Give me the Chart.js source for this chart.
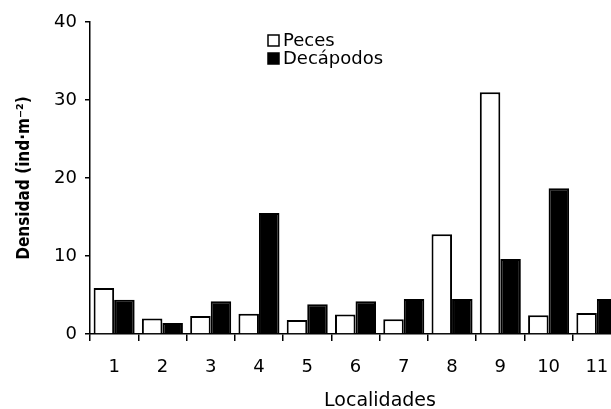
<!DOCTYPE html>
<html>
<head>
<meta charset="utf-8">
<script src="https://cdn.jsdelivr.net/npm/chart.js@4.4.1/dist/chart.umd.min.js"></script>
<style>
  body { margin: 0; overflow: hidden; background: #fff; }
  #wrap { width: 640px; height: 409px; }
</style>
</head>
<body>
<div id="wrap"><canvas id="densidad"></canvas></div>
<script>
var localidades = ["1", "2", "3", "4", "5", "6", "7", "8", "9", "10", "11"];
var peces = [5.9, 2.0, 2.3, 2.6, 1.8, 2.5, 1.9, 12.8, 31.0, 2.4, 2.7];
var decapodos = [4.4, 1.4, 4.2, 15.5, 3.8, 4.2, 4.5, 4.5, 9.6, 18.7, 4.5];
var yTicks = [0, 10, 20, 30, 40];
var tituloX = "Localidades";

var fuente = "'DejaVu Sans', 'Liberation Sans', Arial, sans-serif";

// legend drawn inside the plot, stacked like the original
var leyenda = {
    id: 'leyenda',
    afterDraw: function (chart) {
        var ctx = chart.ctx;
        var x = 268, y = 35;
        ctx.save();
        ctx.font = "18px " + fuente;
        ctx.textBaseline = 'alphabetic';
        chart.data.datasets.forEach(function (ds, i) {
            var top = y + i * 18;
            ctx.fillStyle = ds.backgroundColor;
            ctx.fillRect(x, top, 11, 11);
            ctx.lineWidth = 1.5;
            ctx.strokeStyle = '#000';
            ctx.strokeRect(x, top, 11, 11);
            ctx.fillStyle = '#000';
            ctx.fillText(ds.label, x + 15, top + 11);
        });
        // x axis title, the original sits right of the visible axis centre
        ctx.font = "19px " + fuente;
        ctx.textAlign = 'center';
        ctx.fillText(tituloX, 380, 406);
        ctx.restore();
    }
};

var ctx = document.getElementById("densidad");

var data = {
    labels: localidades,
    datasets: [
        {
            label: "Peces",
            data: peces,
            backgroundColor: "#ffffff",
            borderColor: "#000000",
            borderWidth: 2,
            categoryPercentage: 0.85,
            barPercentage: 1.0
        },
        {
            label: "Decápodos",
            data: decapodos,
            backgroundColor: "#000000",
            borderColor: "#000000",
            borderWidth: 2,
            categoryPercentage: 0.85,
            barPercentage: 1.0
        }
    ]
};

var grafico = new Chart(ctx, {
    type: 'bar',
    data: data,
    plugins: [leyenda],
    options: {
        responsive: true,
        maintainAspectRatio: false,
        animation: false,
        layout: { padding: { left: 0, right: 19, top: 22, bottom: 0 } },
        plugins: {
            legend: { display: false },
            tooltip: { enabled: false }
        },
        scales: {
            x: {
                grid: { display: true, drawOnChartArea: false, drawTicks: true, tickLength: 7, color: '#000', lineWidth: 1.5 },
                border: { display: true, color: '#000', width: 1.5 },
                ticks: { color: '#000', font: { family: fuente, size: 18 }, padding: 16, maxRotation: 0 },
                afterFit: function (scale) { scale.height = 75; }
            },
            y: {
                min: 0,
                max: 40,
                afterBuildTicks: function (scale) {
                    scale.ticks = yTicks.map(function (v) { return { value: v }; });
                },
                grid: { display: true, drawOnChartArea: false, drawTicks: true, tickLength: 5, color: '#000', lineWidth: 1.5 },
                border: { display: true, color: '#000', width: 1.5 },
                ticks: { color: '#000', font: { family: fuente, size: 18 }, padding: 8 },
                title: {
                    display: true,
                    text: 'Densidad (ind·m⁻²)',
                    color: '#000',
                    font: { family: "'DejaVu Sans Condensed', 'DejaVu Sans', sans-serif", size: 17, weight: 'bold' },
                    padding: { top: 14, bottom: 0 }
                },
                afterFit: function (scale) { scale.width = 90; }
            }
        }
    }
});
</script>
</body>
</html>
